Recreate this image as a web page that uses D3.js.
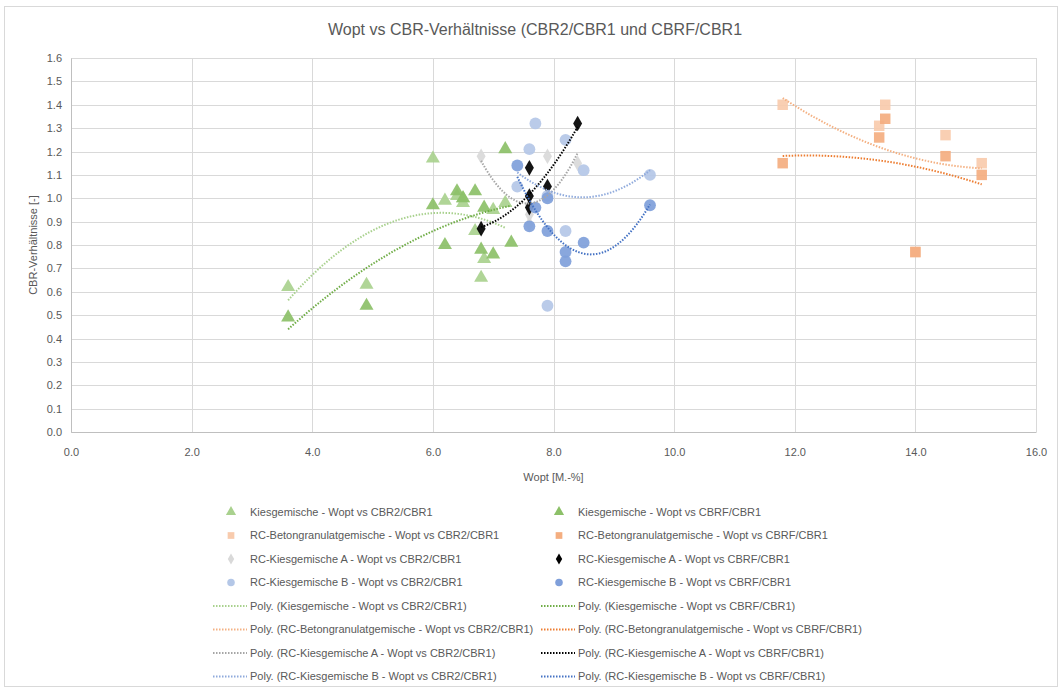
<!DOCTYPE html>
<html>
<head>
<meta charset="utf-8">
<script src="https://cdn.jsdelivr.net/npm/d3@7"></script>
<style>
body { margin: 0; background: #fff; }
text { font-family: "Liberation Sans", Arial, sans-serif; fill: #595959; }
</style>
</head>
<body>
<div id="chart"></div>
<script>

// data
var kiesX2 = [3.6, 4.9, 6.0, 6.2, 6.4, 6.5, 6.5, 6.7, 6.8, 6.85, 7.0, 7.2];
var kiesY2 = [0.62, 0.63, 1.17, 0.99, 1.01, 1.00, 0.98, 0.86, 0.66, 0.74, 0.95, 0.98];
var kiesXF = [3.6, 4.9, 6.0, 6.2, 6.4, 6.5, 6.7, 6.8, 6.85, 7.0, 7.2, 7.3];
var kiesYF = [0.49, 0.54, 0.97, 0.80, 1.03, 1.00, 1.03, 0.78, 0.96, 0.76, 1.21, 0.81];

// the 14.0 point of CBR2/CBR1 sits under the darker square
var betonX = [11.8, 13.4, 13.5, 14.0, 14.5, 15.1];
var betonY2 = [1.40, 1.31, 1.40, 0.77, 1.27, 1.15];
var betonYF = [1.15, 1.26, 1.34, 0.77, 1.18, 1.10];

var rcAX = [6.8, 7.6, 7.6, 7.6, 7.9, 8.4];
var rcAY2 = [1.18, 0.89, 0.93, 0.97, 1.18, 1.15];
var rcAYF = [0.87, 1.13, 1.01, 0.96, 1.05, 1.32];

var rcBX = [7.4, 7.6, 7.7, 7.9, 7.9, 8.2, 8.2, 8.5, 9.6];
var rcBY2 = [1.05, 1.21, 1.32, 1.01, 0.54, 1.25, 0.86, 1.12, 1.10];
var rcBYF = [1.14, 0.88, 0.96, 1.00, 0.86, 0.77, 0.73, 0.81, 0.97];

var xTicks = [0, 2, 4, 6, 8, 10, 12, 14, 16];
var yTicks = d3.range(0, 17).map(function(i) { return i / 10; });

var series = [
  {name: 'Kiesgemische - Wopt vs CBR2/CBR1', x: kiesX2, y: kiesY2, shape: d3.symbolTriangle, fill: '#A9D18E', line: '#A9D18E'},
  {name: 'Kiesgemische - Wopt vs CBRF/CBR1', x: kiesXF, y: kiesYF, shape: d3.symbolTriangle, fill: '#8CC068', line: '#70AD47'},
  {name: 'RC-Betongranulatgemische - Wopt vs CBR2/CBR1', x: betonX, y: betonY2, shape: d3.symbolSquare, fill: '#F8CBAD', line: '#F4B183'},
  {name: 'RC-Betongranulatgemische - Wopt vs CBRF/CBR1', x: betonX, y: betonYF, shape: d3.symbolSquare, fill: '#F4AE80', line: '#ED7D31'},
  {name: 'RC-Kiesgemische A - Wopt vs CBR2/CBR1', x: rcAX, y: rcAY2, shape: d3.symbolDiamond, fill: '#D9D9D9', line: '#A6A6A6'},
  {name: 'RC-Kiesgemische A - Wopt vs CBRF/CBR1', x: rcAX, y: rcAYF, shape: d3.symbolDiamond, fill: '#000000', line: '#000000'},
  {name: 'RC-Kiesgemische B - Wopt vs CBR2/CBR1', x: rcBX, y: rcBY2, shape: d3.symbolCircle, fill: '#B4C7E7', line: '#8FAADC'},
  {name: 'RC-Kiesgemische B - Wopt vs CBRF/CBR1', x: rcBX, y: rcBYF, shape: d3.symbolCircle, fill: '#7F9FDA', line: '#4472C4'}
];

var W = 1062, H = 691;
var margin = {top: 58, right: 26, bottom: 259, left: 71};
var width = W - margin.left - margin.right;
var height = H - margin.top - margin.bottom;

var root = d3.select('#chart')
  .append('svg')
    .attr('width', W)
    .attr('height', H);

root.append('rect')
  .attr('x', 4.5).attr('y', 6.5)
  .attr('width', 1053).attr('height', 680)
  .attr('fill', '#fff')
  .attr('stroke', '#D9D9D9');

var svg = root.append('g')
  .attr('transform', 'translate(' + margin.left + ',' + margin.top + ')');

var x = d3.scaleLinear().domain([0, 16]).range([0, width]);
var y = d3.scaleLinear().domain([0, 1.6]).range([height, 0]);

// gridlines
svg.append('g').selectAll('line')
  .data(yTicks)
  .enter().append('line')
    .attr('x1', 0).attr('x2', width)
    .attr('y1', function(d) { return Math.round(y(d)) + 0.5; })
    .attr('y2', function(d) { return Math.round(y(d)) + 0.5; })
    .attr('stroke', '#D9D9D9');

svg.append('g').selectAll('line')
  .data(xTicks)
  .enter().append('line')
    .attr('y1', 0).attr('y2', height)
    .attr('x1', function(d) { return Math.round(x(d)) + 0.5; })
    .attr('x2', function(d) { return Math.round(x(d)) + 0.5; })
    .attr('stroke', '#D9D9D9');

// axes
var xAxis = svg.append('g')
  .attr('class', 'xaxis')
  .attr('transform', 'translate(0,' + height + ')')
  .call(d3.axisBottom(x).tickValues(xTicks).tickFormat(d3.format('.1f')).tickSize(0).tickPadding(16));
xAxis.select('.domain').attr('stroke', '#BFBFBF');
xAxis.selectAll('text').style('font-size', '11px').attr('fill', '#595959');

var yAxis = svg.append('g')
  .attr('class', 'yaxis')
  .call(d3.axisLeft(y).tickValues(yTicks).tickFormat(d3.format('.1f')).tickSize(0).tickPadding(9));
yAxis.select('.domain').attr('stroke', '#BFBFBF');
yAxis.selectAll('text').style('font-size', '11px').attr('fill', '#595959');

// quadratic least squares, like Excel's "Poly." order 2 trendline
function polyFit(xs, ys) {
  var s = [0, 0, 0, 0, 0], t = [0, 0, 0];
  xs.forEach(function(xv, i) {
    for (var k = 0; k < 5; k++) s[k] += Math.pow(xv, k);
    for (var k2 = 0; k2 < 3; k2++) t[k2] += ys[i] * Math.pow(xv, k2);
  });
  var m = [[s[0], s[1], s[2], t[0]], [s[1], s[2], s[3], t[1]], [s[2], s[3], s[4], t[2]]];
  for (var c = 0; c < 3; c++) {
    for (var r = c + 1; r < 3; r++) {
      var f = m[r][c] / m[c][c];
      for (var j = c; j < 4; j++) m[r][j] -= f * m[c][j];
    }
  }
  var b = [0, 0, 0];
  for (var r2 = 2; r2 >= 0; r2--) {
    var v = m[r2][3];
    for (var j2 = r2 + 1; j2 < 3; j2++) v -= m[r2][j2] * b[j2];
    b[r2] = v / m[r2][r2];
  }
  return function(xv) { return b[0] + b[1] * xv + b[2] * xv * xv; };
}

var line = d3.line()
  .x(function(d) { return x(d[0]); })
  .y(function(d) { return y(d[1]); });

// markers
series.forEach(function(s) {
  var pts = s.x.map(function(xv, i) { return [xv, s.y[i]]; });
  var sz = s.shape === d3.symbolDiamond ? 70 : (s.shape === d3.symbolTriangle ? 85 : 110);
  svg.append('g').selectAll('path')
    .data(pts)
    .enter().append('path')
      .attr('transform', function(d) { return 'translate(' + x(d[0]) + ',' + y(d[1]) + ')'; })
      .attr('d', d3.symbol().type(s.shape).size(sz))
      .attr('fill', s.fill)
      .attr('fill-opacity', 0.92);
});

// trendlines on top
series.forEach(function(s) {
  var fit = polyFit(s.x, s.y);
  var x0 = d3.min(s.x), x1 = d3.max(s.x);
  var curve = d3.range(0, 61).map(function(i) {
    var xv = x0 + (x1 - x0) * i / 60;
    return [xv, fit(xv)];
  });
  svg.append('path')
    .datum(curve)
    .attr('d', line)
    .attr('fill', 'none')
    .attr('stroke', s.line)
    .attr('stroke-width', 2)
    .attr('stroke-dasharray', '1.5,1.5');
});

// titles
root.append('text')
  .attr('x', 535).attr('y', 35)
  .style('text-anchor', 'middle')
  .style('font-size', '16px')
  .text('Wopt vs CBR-Verhältnisse (CBR2/CBR1 und CBRF/CBR1');

root.append('text')
  .attr('x', margin.left + width / 2).attr('y', 481)
  .style('text-anchor', 'middle')
  .style('font-size', '11px')
  .text('Wopt [M.-%]');

root.append('text')
  .attr('transform', 'translate(37,' + (margin.top + height / 2) + ')rotate(-90)')
  .style('text-anchor', 'middle')
  .style('font-size', '11px')
  .text('CBR-Verhältnisse [-]');

// legend: markers first, then trendlines, two columns
var legendItems = [];
series.forEach(function(s) { legendItems.push({type: 'marker', s: s, label: s.name}); });
series.forEach(function(s) { legendItems.push({type: 'line', s: s, label: 'Poly. (' + s.name + ')'}); });

var legend = root.append('g');
legendItems.forEach(function(item, i) {
  var col = i % 2, row = Math.floor(i / 2);
  var lx = col === 0 ? 213 : 541;
  var ly = 512 + row * 23.5;
  var g = legend.append('g').attr('transform', 'translate(' + lx + ',' + ly + ')');
  if (item.type === 'marker') {
    g.append('path')
      .attr('transform', 'translate(18,0)')
      .attr('d', d3.symbol().type(item.s.shape).size(item.s.shape === d3.symbolDiamond ? 35 : 45))
      .attr('fill', item.s.fill);
  } else {
    g.append('line')
      .attr('x1', 0).attr('x2', 34)
      .attr('stroke', item.s.line)
      .attr('stroke-width', 2)
      .attr('stroke-dasharray', '1.5,1.5');
  }
  g.append('text')
    .attr('x', 37)
    .attr('dy', '0.35em')
    .style('font-size', '11px')
    .text(item.label);
});
</script>
</body>
</html>
